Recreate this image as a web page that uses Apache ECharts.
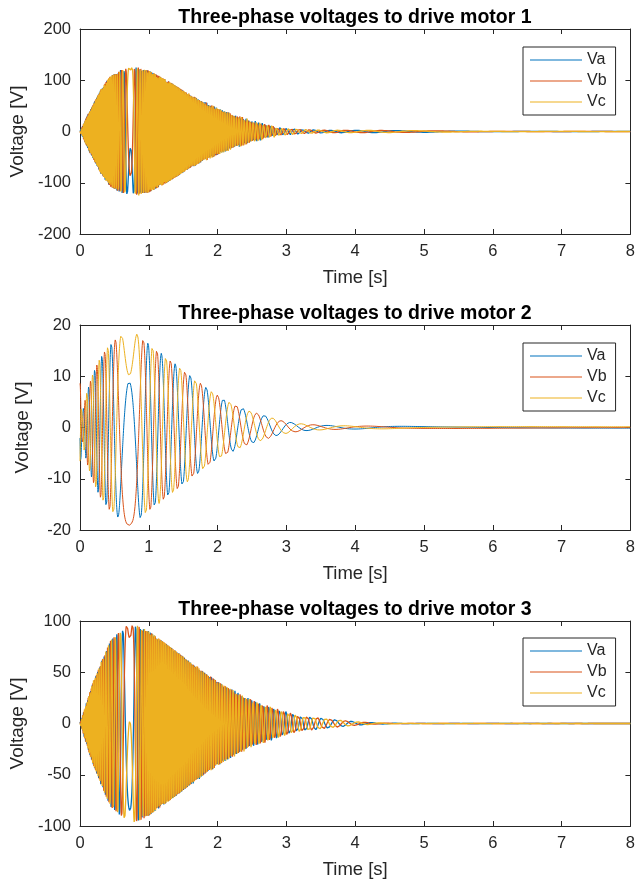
<!DOCTYPE html>
<html>
<head>
<meta charset="utf-8">
<script src="https://cdn.jsdelivr.net/npm/echarts/dist/echarts.min.js"></script>
<style>
  html, body { margin: 0; padding: 0; background: #fff; }
  #chart { width: 638px; height: 881px; }
</style>
</head>
<body>
<div id="chart"></div>
<script>
// ---- data ----
const phaseNames = ['Va', 'Vb', 'Vc'];
const phaseColors = ['#0072BD', '#D95319', '#EDB120'];
const titles = [
  'Three-phase voltages to drive motor 1',
  'Three-phase voltages to drive motor 2',
  'Three-phase voltages to drive motor 3'
];
const yRange1 = [-200, 200, 100];
const yRange2 = [-20, 20, 10];
const yRange3 = [-100, 100, 50];

// envelope (peak voltage) over time
const m1EnvTime = [0, 0.145, 0.29, 0.435, 0.58, 0.72, 0.85, 1.0, 1.25, 1.5, 1.75, 2.0, 2.25, 2.5, 2.75, 3.0, 3.25, 3.5, 4.0, 4.5, 5.0, 5.5, 6.0, 8.0];
const m1EnvVolt = [0, 42, 80, 107, 120, 125, 125, 119, 101, 81, 62, 46, 33, 22, 13, 7, 4, 2.6, 2.3, 2.0, 1.5, 0.8, 0.3, 0.1];
const m2EnvTime = [0, 0.03, 0.1, 0.2, 0.3, 0.4, 0.5, 0.6, 0.7, 0.8, 0.9, 1.0, 1.2, 1.45, 1.7, 1.95, 2.2, 2.45, 2.7, 2.9, 3.1, 3.3, 3.6, 4.0, 5.0, 8.0];
const m2EnvVolt = [9, 2.5, 7, 11, 13.8, 15.8, 17, 18, 19.2, 18.5, 17.5, 16.4, 14.3, 11.8, 9.2, 6.7, 4.8, 3.3, 2.3, 1.4, 0.9, 0.6, 0.4, 0.3, 0.2, 0.15];
const m3EnvTime = [0, 0.19, 0.43, 0.68, 0.8, 1.0, 1.5, 2.0, 2.5, 3.0, 3.2, 3.5, 3.67, 4.0, 4.3, 4.7, 5.0, 8.0];
const m3EnvVolt = [0, 41, 80, 96.5, 97, 90, 65.6, 41, 23, 11.5, 8, 5.5, 4, 1.7, 0.6, 0.1, 0.05, 0.02];

// electrical frequency magnitude [Hz] over time (goes through zero at the reversal)
const m1FreqTime = [0, 0.2, 0.4, 0.6, 0.735, 0.85, 1.0, 1.2, 1.5, 2.0, 2.5, 3.0, 3.5, 4.0, 5.0, 8.0];
const m1FreqHz   = [110, 85, 55, 22, 0, 25, 45, 50, 45, 35, 22, 10, 4, 2, 1, 0.8];
const m2FreqTime = [0, 0.1, 0.2, 0.3, 0.4, 0.5, 0.6, 0.715, 0.8, 0.9, 1.0, 1.2, 1.5, 2.0, 2.5, 3.0, 3.5, 4.0, 5.0, 8.0];
const m2FreqHz   = [15, 12.8, 10.8, 8.9, 7.1, 5.3, 2.8, 0, 2.1, 4.3, 5.2, 5.1, 4.6, 3.9, 3.2, 2.4, 1.6, 1.0, 0.2, 0];
const m3FreqTime = [0, 0.2, 0.4, 0.6, 0.725, 0.85, 1.0, 1.2, 1.5, 2.0, 2.5, 3.0, 3.5, 4.0, 5.0, 8.0];
const m3FreqHz   = [55, 40, 25, 10, 0, 15, 35, 40, 37, 28, 18, 10, 5.5, 3.5, 2, 1.5];

// moment of reversal [s] and the phase angle of Va there [deg]
const reversalTime = [0.735, 0.715, 0.725];
const reversalAngle = [-104, -62, 151.6];

// ---- build waveforms ----
function interp(xs, ys, x) {
  if (x <= xs[0]) return ys[0];
  for (let i = 1; i < xs.length; i++) {
    if (x <= xs[i]) {
      const r = (x - xs[i - 1]) / (xs[i] - xs[i - 1]);
      return ys[i - 1] + r * (ys[i] - ys[i - 1]);
    }
  }
  return ys[ys.length - 1];
}

function timeGrid() {
  const ts = [];
  for (let i = 0; i <= 11500; i++) ts.push(i * 0.0004);
  for (let i = 1; i <= 680; i++) ts.push(4.6 + i * 0.005);
  return ts;
}

function buildMotor(envT, envV, fT, fV, t0, ang0) {
  const ts = timeGrid();
  const cyc = [0];
  for (let i = 1; i < ts.length; i++) {
    const f0 = interp(fT, fV, ts[i - 1]);
    const f1 = interp(fT, fV, ts[i]);
    cyc.push(cyc[i - 1] + 0.5 * (f0 + f1) * (ts[i] - ts[i - 1]));
  }
  const c0 = interp(ts, cyc, t0);
  const out = [[], [], []];
  const shifts = [0, -120, 120];
  for (let i = 0; i < ts.length; i++) {
    const th = ang0 * Math.PI / 180 - 2 * Math.PI * Math.abs(cyc[i] - c0);
    const a = interp(envT, envV, ts[i]);
    for (let p = 0; p < 3; p++) {
      out[p].push([ts[i], a * Math.cos(th + shifts[p] * Math.PI / 180)]);
    }
  }
  return out;
}

const motors = [
  buildMotor(m1EnvTime, m1EnvVolt, m1FreqTime, m1FreqHz, reversalTime[0], reversalAngle[0]),
  buildMotor(m2EnvTime, m2EnvVolt, m2FreqTime, m2FreqHz, reversalTime[1], reversalAngle[1]),
  buildMotor(m3EnvTime, m3EnvVolt, m3FreqTime, m3FreqHz, reversalTime[2], reversalAngle[2])
];
const yRanges = [yRange1, yRange2, yRange3];

// ---- layout ----
const fontFam = 'Liberation Sans, Arial, Helvetica, sans-serif';
const ink = '#262626';
const gridTops = [29, 325, 621];
const gridH = 205;
const legendTops = [47, 343, 638];
const lineWidths = [1.3, 1, 1.3];

const grids = [], xAxes = [], yAxes = [], series = [], legends = [], titleList = [];
for (let g = 0; g < 3; g++) {
  grids.push({ left: 80, right: 6, top: gridTops[g], height: gridH, containLabel: false });
  const axLine = { show: true, onZero: false, lineStyle: { color: ink, width: 1 } };
  const tick = { show: true, inside: true, length: 5, lineStyle: { color: ink } };
  xAxes.push({
    type: 'value', gridIndex: g, min: 0, max: 8, interval: 1, position: 'bottom',
    axisLine: axLine, axisTick: tick, splitLine: { show: false },
    axisLabel: { color: ink, fontSize: 16.5, fontFamily: fontFam, margin: 9 },
    name: 'Time [s]', nameLocation: 'middle', nameGap: 34,
    nameTextStyle: { color: ink, fontSize: 18.5, fontFamily: fontFam }
  });
  xAxes.push({
    type: 'value', gridIndex: g, min: 0, max: 8, interval: 1, position: 'top',
    axisLine: axLine, axisTick: tick, splitLine: { show: false }, axisLabel: { show: false }
  });
  const yr = yRanges[g];
  yAxes.push({
    type: 'value', gridIndex: g, min: yr[0], max: yr[1], interval: yr[2], position: 'left',
    axisLine: axLine, axisTick: tick, splitLine: { show: false },
    axisLabel: { color: ink, fontSize: 16.5, fontFamily: fontFam, margin: 9 },
    name: 'Voltage [V]', nameLocation: 'middle', nameGap: 48,
    nameTextStyle: { color: ink, fontSize: 19, fontFamily: fontFam }
  });
  yAxes.push({
    type: 'value', gridIndex: g, min: yr[0], max: yr[1], interval: yr[2], position: 'right',
    axisLine: axLine, axisTick: tick, splitLine: { show: false }, axisLabel: { show: false }
  });
  for (let p = 0; p < 3; p++) {
    series.push({
      type: 'line', name: phaseNames[p], xAxisIndex: g * 2, yAxisIndex: g * 2,
      data: motors[g][p], showSymbol: false, symbol: 'none',
      lineStyle: { color: phaseColors[p], width: lineWidths[g] }, itemStyle: { color: phaseColors[p] },
      animation: false, silent: true
    });
  }
  legends.push({
    data: phaseNames, orient: 'vertical', left: 523, top: legendTops[g],
    icon: 'rect', itemWidth: 52, itemHeight: 1.2, itemGap: 3,
    padding: [4, 9, 4, 7], borderColor: ink, borderWidth: 1, backgroundColor: '#fff',
    textStyle: { color: ink, fontSize: 16, fontFamily: fontFam, lineHeight: 18 },
    selectedMode: false
  });
  titleList.push({
    text: titles[g], left: 350, top: gridTops[g] - 26, textAlign: 'center',
    textStyle: { color: '#000', fontSize: 19.5, fontWeight: 'bold', fontFamily: fontFam }
  });
}

const chart = echarts.init(document.getElementById('chart'), null, { renderer: 'canvas' });
chart.setOption({
  animation: false,
  backgroundColor: '#fff',
  title: titleList,
  grid: grids,
  xAxis: xAxes,
  yAxis: yAxes,
  legend: legends,
  series: series
});
</script>
</body>
</html>
